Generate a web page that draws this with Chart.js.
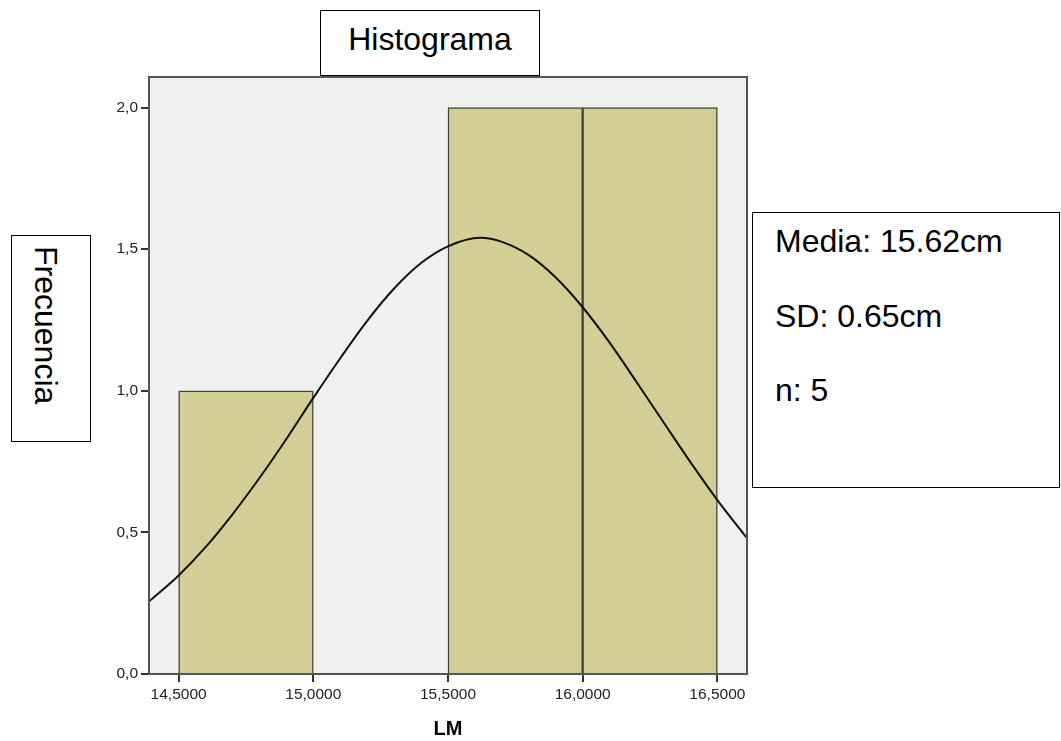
<!DOCTYPE html>
<html>
<head>
<meta charset="utf-8">
<script src="https://cdn.jsdelivr.net/npm/chart.js@4/dist/chart.umd.min.js"></script>
<style>
  html, body { margin: 0; padding: 0; background: #fff; }
  body { width: 1061px; height: 741px; position: relative; overflow: hidden; font-family: "Liberation Sans", Arial, sans-serif; }
  #c { position: absolute; left: 0; top: 0; }
  .box { position: absolute; box-sizing: border-box; border: 1.5px solid #000; background: #fff; }
  .txt { position: absolute; font-size: 32px; line-height: 32px; color: #000; white-space: nowrap; }
</style>
</head>
<body>
<canvas id="c" width="1061" height="741"></canvas>

<div class="box" style="left:320px; top:10px; width:220px; height:66px;"></div>
<div class="txt" style="left:320px; width:220px; top:23px; text-align:center;">Histograma</div>

<div class="box" style="left:11px; top:235px; width:80px; height:207px;"></div>
<div class="txt" style="left:28px; top:246px; width:36px; line-height:36px; writing-mode:vertical-rl;">Frecuencia</div>

<div class="box" style="left:752px; top:212px; width:308px; height:276px;"></div>
<div class="txt" style="left:775px; top:225px;">Media: 15.62cm</div>
<div class="txt" style="left:775px; top:300px;">SD: 0.65cm</div>
<div class="txt" style="left:775px; top:374px;">n: 5</div>

<script>
// ---- data ----
const binStarts = [14.5, 15.5, 16.0];
const binWidth = 0.5;
const frequencies = [1, 2, 2];

// normal curve
const curveX = [14.39, 14.5, 14.6, 14.7, 14.8, 14.9, 15.0, 15.1, 15.2, 15.3, 15.4, 15.5, 15.62, 15.7, 15.8, 15.9, 16.0, 16.1, 16.2, 16.3, 16.4, 16.5, 16.61];
const curveY = [0.256, 0.348, 0.448, 0.564, 0.692, 0.830, 0.975, 1.115, 1.247, 1.361, 1.451, 1.510, 1.540, 1.526, 1.479, 1.400, 1.295, 1.170, 1.031, 0.889, 0.748, 0.614, 0.480];

const xTickValues = [14.5, 15.0, 15.5, 16.0, 16.5];
const xTickLabels = ['14,5000', '15,0000', '15,5000', '16,0000', '16,5000'];
const yTickValues = [0, 0.5, 1.0, 1.5, 2.0];
const yTickLabels = ['0,0', '0,5', '1,0', '1,5', '2,0'];
const xAxisTitle = 'LM';

const barData = binStarts.map((s, i) => ({ x: s + binWidth / 2, y: frequencies[i] }));
const curveData = curveX.map((x, i) => ({ x: x, y: curveY[i] }));

const frame = {
  id: 'frame',
  beforeDraw(chart) {
    const { ctx, chartArea: a } = chart;
    ctx.save();
    ctx.fillStyle = '#f0f0f0';
    ctx.fillRect(a.left, a.top, a.right - a.left, a.bottom - a.top);
    ctx.restore();
  },
  afterDatasetsDraw(chart) {
    const { ctx, chartArea: a } = chart;
    ctx.save();
    ctx.strokeStyle = '#555';
    ctx.lineWidth = 2;
    ctx.strokeRect(a.left, a.top, a.right - a.left, a.bottom - a.top);
    ctx.restore();
  }
};

const tickFont = { family: '"Liberation Sans", Arial, sans-serif', size: 15.5 };

new Chart(document.getElementById('c'), {
  type: 'bar',
  data: {
    datasets: [
      {
        type: 'line',
        data: curveData,
        borderColor: '#111',
        borderWidth: 2,
        pointRadius: 0,
        cubicInterpolationMode: 'monotone',
        fill: false,
        order: 0
      },
      {
        type: 'bar',
        data: barData,
        backgroundColor: '#d3cd96',
        borderColor: '#444',
        borderWidth: 1.5,
        barPercentage: 1,
        categoryPercentage: 1,
        order: 1
      }
    ]
  },
  options: {
    responsive: false,
    animation: false,
    devicePixelRatio: 1,
    layout: { padding: { left: 0, top: 77, right: 314, bottom: 0 } },
    plugins: { legend: { display: false }, tooltip: { enabled: false }, title: { display: false } },
    scales: {
      x: {
        type: 'linear',
        offset: false,
        min: 14.39,
        max: 16.61,
        afterBuildTicks(scale) { scale.ticks = xTickValues.map(v => ({ value: v })); },
        afterFit(scale) { scale.height = 67; },
        ticks: {
          callback: (v, i) => xTickLabels[i],
          font: tickFont,
          color: '#222',
          padding: 3,
          maxRotation: 0,
          autoSkip: false
        },
        grid: { offset: false, drawOnChartArea: false, drawTicks: true, tickLength: 8, color: '#333', lineWidth: 2 },
        border: { display: false },
        title: {
          display: true,
          text: xAxisTitle,
          font: { family: '"Liberation Sans", Arial, sans-serif', size: 20, weight: 'bold' },
          color: '#000',
          padding: { top: 0, bottom: 0 }
        }
      },
      y: {
        type: 'linear',
        min: 0,
        max: 2.108,
        afterBuildTicks(scale) { scale.ticks = yTickValues.map(v => ({ value: v })); },
        afterFit(scale) { scale.width = 149; },
        ticks: {
          callback: (v, i) => yTickLabels[i],
          font: tickFont,
          color: '#222',
          padding: 3,
          autoSkip: false
        },
        grid: { drawOnChartArea: false, drawTicks: true, tickLength: 8, color: '#333', lineWidth: 2 },
        border: { display: false }
      }
    }
  },
  plugins: [frame]
});
</script>
</body>
</html>
